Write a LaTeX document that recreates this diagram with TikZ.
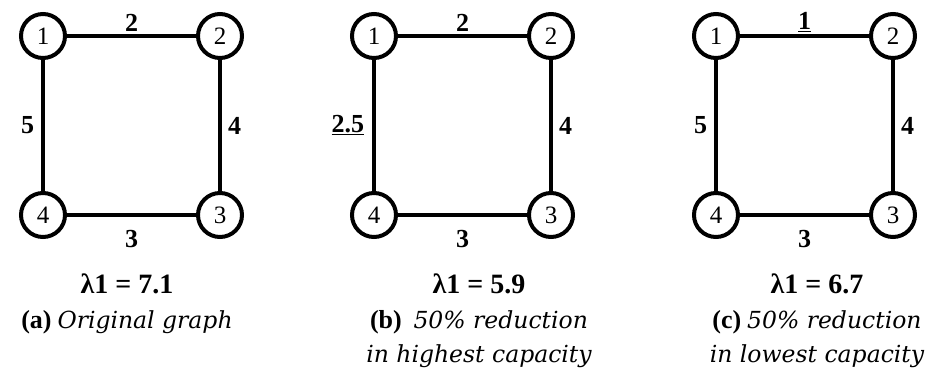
\documentclass[tikz,border=0pt]{standalone}
\usepackage{fontspec}
\setmainfont{Liberation Serif}
\newfontfamily\capfont{DejaVu Serif}
\usetikzlibrary{positioning}
\tikzset{
  vert/.style={circle, draw, line width=4pt, minimum size=44pt, inner sep=0pt, font=\fontsize{25}{25}\selectfont},
  edge/.style={line width=4pt},
  wlab/.style={font=\fontsize{26}{26}\selectfont\bfseries, inner sep=2pt},
  lamlab/.style={font=\fontsize{28}{28}\selectfont\bfseries, anchor=base},
  caplab/.style={font=\fontsize{23.5}{34}\selectfont, align=center, anchor=north, inner sep=0pt},
}
\newcommand{\capit}[1]{{\capfont\itshape #1}}
\newcommand{\captag}[1]{{\fontsize{26}{26}\selectfont\bfseries #1}}

\begin{document}
\begin{tikzpicture}[x=1pt,y=-1pt]
\useasboundingbox (0,0) rectangle (930,372);

% ===================== (a) original graph =====================
\begin{scope}[shift={(0,0)}]
  \node[vert] (a1) at (43,36) {1};
  \node[vert] (a2) at (220,36) {2};
  \node[vert] (a3) at (220,215) {3};
  \node[vert] (a4) at (43,215) {4};
  \draw[edge] (a1) -- node[wlab, above=1pt] {2} (a2);
  \draw[edge] (a2) -- node[wlab, right=4pt] {4} (a3);
  \draw[edge] (a3) -- node[wlab, below=11pt] {3} (a4);
  \draw[edge] (a4) -- node[wlab, left=5pt] {5} (a1);
  \node[lamlab] (alam) at (127,293) {λ1 = 7.1};
  \node[caplab] (acap) at (127,310) {\captag{(a)} \capit{Original graph}};
\end{scope}

% ===================== (b) highest capacity halved =====================
\begin{scope}[shift={(331,0)}]
  \node[vert] (b1) at (43,36) {1};
  \node[vert] (b2) at (220,36) {2};
  \node[vert] (b3) at (220,215) {3};
  \node[vert] (b4) at (43,215) {4};
  \draw[edge] (b1) -- node[wlab, above=1pt] {2} (b2);
  \draw[edge] (b2) -- node[wlab, right=4pt] {4} (b3);
  \draw[edge] (b3) -- node[wlab, below=11pt] {3} (b4);
  \draw[edge] (b4) -- node[wlab, left=6pt] {\underline{2.5}} (b1);
  \node[lamlab] (blam) at (148,293) {λ1 = 5.9};
  \node[caplab] (bcap) at (148,310) {\captag{(b)}\ \ \capit{50\% reduction}\\ \capit{in highest capacity}};
\end{scope}

% ===================== (c) lowest capacity halved =====================
\begin{scope}[shift={(673,0)}]
  \node[vert] (c1) at (43,36) {1};
  \node[vert] (c2) at (220,36) {2};
  \node[vert] (c3) at (220,215) {3};
  \node[vert] (c4) at (43,215) {4};
  \draw[edge] (c1) -- node[wlab, above=0pt] {\underline{1}} (c2);
  \draw[edge] (c2) -- node[wlab, right=4pt] {4} (c3);
  \draw[edge] (c3) -- node[wlab, below=11pt] {3} (c4);
  \draw[edge] (c4) -- node[wlab, left=5pt] {5} (c1);
  \node[lamlab] (clam) at (144,293) {λ1 = 6.7};
  \node[caplab] (ccap) at (144,310) {\captag{(c)} \capit{50\% reduction}\\ \capit{in lowest capacity}};
\end{scope}

\end{tikzpicture}
\end{document}
